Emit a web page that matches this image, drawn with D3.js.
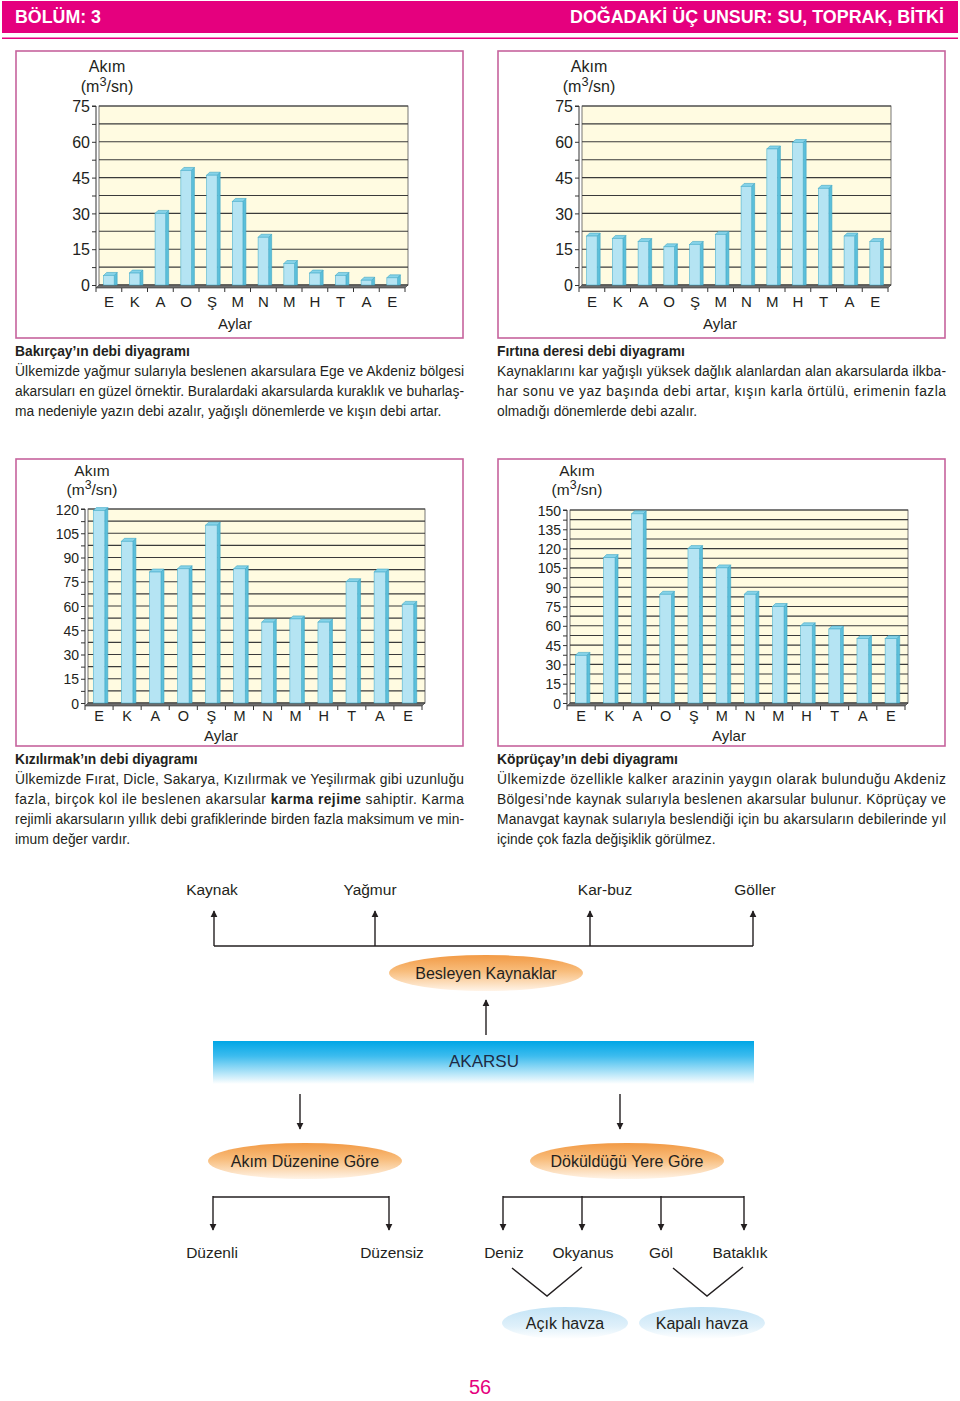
<!DOCTYPE html>
<html><head><meta charset="utf-8">
<script src="https://cdn.jsdelivr.net/npm/d3@7"></script>
<style>
html,body{margin:0;padding:0;background:#fff;}
text{font-family:"Liberation Sans",Arial,Helvetica,sans-serif;fill:#231f20;}
</style></head>
<body>
<script>
// ---------- DATA ----------
const months = ["E","K","A","O","Ş","M","N","M","H","T","A","E"];
const bakircay   = [4,5,30,48,46,35,20,9,5,4,2,3];
const firtina    = [20.5,19.5,18.2,16,17,21.2,41.3,57,59.7,40.5,20.5,18.2];
const kizilirmak = [119,100,81,83,110,83,50,52,50,75,81,61];
const kopruçay   = [37,113,147,84.5,120,105,84.5,75,60,57.5,50,50];
const ticks75  = [0,15,30,45,60,75];
const ticks120 = [0,15,30,45,60,75,90,105,120];
const ticks150 = [0,15,30,45,60,75,90,105,120,135,150];

const headerLeft = "BÖLÜM: 3";
const headerRight = "DOĞADAKİ ÜÇ UNSUR: SU, TOPRAK, BİTKİ";
const yTitle1 = "Akım";
const xTitle = "Aylar";

const captionTitles = ["Bakırçay’ın debi diyagramı","Fırtına deresi debi diyagramı","Kızılırmak’ın debi diyagramı","Köprüçay’ın debi diyagramı"];
const captionLines = [
 ["Ülkemizde yağmur sularıyla beslenen akarsulara Ege ve Akdeniz bölgesi",
  "akarsuları en güzel örnektir. Buralardaki akarsularda kuraklık ve buharlaş-",
  "ma nedeniyle yazın debi azalır, yağışlı dönemlerde ve kışın debi artar."],
 ["Kaynaklarını kar yağışlı yüksek dağlık alanlardan alan akarsularda ilkba-",
  "har sonu ve yaz başında debi artar, kışın karla örtülü, erimenin fazla",
  "olmadığı dönemlerde debi azalır."],
 ["Ülkemizde Fırat, Dicle, Sakarya, Kızılırmak ve Yeşilırmak gibi uzunluğu",
  "fazla, birçok kol ile beslenen akarsular **karma rejime** sahiptir. Karma",
  "rejimli akarsuların yıllık debi grafiklerinde birden fazla maksimum ve min-",
  "imum değer vardır."],
 ["Ülkemizde özellikle kalker arazinin yaygın olarak bulunduğu Akdeniz",
  "Bölgesi’nde kaynak sularıyla beslenen akarsular bulunur. Köprüçay ve",
  "Manavgat kaynak sularıyla beslendiği için bu akarsuların debilerinde yıl",
  "içinde çok fazla değişiklik görülmez."]
];

const feedSources = ["Kaynak","Yağmur","Kar-buz","Göller"];
const feedTitle = "Besleyen Kaynaklar";
const riverTitle = "AKARSU";
const classTitles = ["Akım Düzenine Göre","Döküldüğü Yere Göre"];
const regimes = ["Düzenli","Düzensiz"];
const outlets = ["Deniz","Okyanus","Göl","Bataklık"];
const basins = ["Açık havza","Kapalı havza"];
const pageNo = "56";

// ---------- LAYOUT ----------
const W = 960, H = 1401, MAG = "#e5007e", BOX = "#c6639d";
const svg = d3.select("body").append("svg").attr("width",W).attr("height",H);
svg.append("rect").attr("width",W).attr("height",H).attr("fill","#fff");
const defs = svg.append("defs");

function lin(id, stops){
  const g = defs.append("linearGradient").attr("id",id).attr("x1",0).attr("y1",0).attr("x2",0).attr("y2",1);
  stops.forEach(s=>g.append("stop").attr("offset",s[0]).attr("stop-color",s[1]));
}
lin("gOrange",[[0,"#f29a45"],[0.45,"#f8bd7c"],[1,"#fff4e8"]]);
lin("gBlue",[[0,"#c4e4f6"],[0.6,"#dff0fa"],[1,"#ffffff"]]);
lin("gRiver",[[0,"#00a6e6"],[0.35,"#3dbcee"],[1,"#ffffff"]]);
defs.append("marker").attr("id","arr").attr("viewBox","0 0 10 10").attr("refX",9).attr("refY",5)
  .attr("markerWidth",7).attr("markerHeight",8).attr("markerUnits","userSpaceOnUse").attr("orient","auto")
  .append("path").attr("d","M0,0 L10,5 L0,10 z").attr("fill","#231f20");

// header
svg.append("rect").attr("x",2).attr("y",1).attr("width",956).attr("height",32).attr("fill",MAG);
svg.append("rect").attr("x",2).attr("y",37.5).attr("width",956).attr("height",1.5).attr("fill",MAG);
svg.append("text").attr("x",15).attr("y",23).attr("font-size",18).attr("font-weight","bold")
  .style("fill","#fff").attr("textLength",86).attr("lengthAdjust","spacingAndGlyphs").text(headerLeft);
svg.append("text").attr("x",570).attr("y",23).attr("font-size",18).attr("font-weight","bold")
  .style("fill","#fff").attr("textLength",374).attr("lengthAdjust","spacingAndGlyphs").text(headerRight);

// ---------- CHARTS ----------
const charts = [
 {data:bakircay, ticks:ticks75, max:75, box:[16,51,447,287], x0:96, x1:405, yTop:106, y0:285, fs:16, tfs:16, mfs:15, mpad:11,
  akim:[107,71.5,92], aylar:[235,328.5], cap:0},
 {data:firtina, ticks:ticks75, max:75, box:[498,51,447,287], x0:579, x1:888, yTop:106, y0:285, fs:16, tfs:16, mfs:15, mpad:11,
  akim:[589,71.5,92], aylar:[720,328.5], cap:1},
 {data:kizilirmak, ticks:ticks120, max:120, box:[16,459,447,287], x0:85, x1:422, yTop:509, y0:703, fs:14, tfs:15.5, mfs:14.5, mpad:8,
  akim:[92,476,495], aylar:[221,741], cap:2},
 {data:kopruçay, ticks:ticks150, max:150, box:[498,459,447,287], x0:567, x1:905, yTop:510, y0:703, fs:14, tfs:15.5, mfs:14.5, mpad:8,
  akim:[577,476,495], aylar:[729,741], cap:3}
];

charts.forEach(c=>{
  const g = svg.append("g");
  g.append("rect").attr("x",c.box[0]).attr("y",c.box[1]).attr("width",c.box[2]).attr("height",c.box[3])
    .attr("fill","#fff").attr("stroke",BOX).attr("stroke-width",1.6);
  const x = d3.scaleBand().domain(d3.range(months.length)).range([c.x0,c.x1]);
  const y = d3.scaleLinear().domain([0,c.max]).range([c.y0,c.yTop]);
  const d = 3;
  const grid = d3.range(0,c.max+0.001,7.5);
  // back wall
  g.append("rect").attr("x",c.x0+d).attr("y",y(c.max)).attr("width",c.x1-c.x0).attr("height",c.y0-y(c.max))
    .attr("fill","#fffbe1").attr("stroke","#555").attr("stroke-width",0.8);
  g.selectAll(".gl").data(grid).join("line").attr("x1",c.x0+d).attr("x2",c.x1+d)
    .attr("y1",v=>y(v)).attr("y2",v=>y(v)).attr("stroke","#3a3a3a").attr("stroke-width",1.1);
  // floor
  g.append("path").attr("d",`M${c.x0},${c.y0+d} L${c.x0+d},${c.y0} L${c.x1+d},${c.y0} L${c.x1},${c.y0+d} Z`)
    .attr("fill","#6d6d6d").attr("stroke","#333").attr("stroke-width",0.6);
  // y axis
  const ya = d3.axisLeft(y).tickValues(grid).tickSize(4).tickPadding(2)
    .tickFormat(v=>c.ticks.includes(v)?String(v):"");
  const yg = g.append("g").attr("transform",`translate(${c.x0},0)`).call(ya);
  yg.select(".domain").attr("stroke","#333").attr("d",`M-4,${y(c.max)}H0V${c.y0+d}`);
  yg.selectAll(".tick line").attr("stroke","#333");
  yg.selectAll(".tick text").attr("font-size",c.fs).attr("font-family",null).style("fill","#231f20").attr("dy","0.36em");
  // x ticks at band edges
  g.selectAll(".xt").data(d3.range(months.length+1)).join("line")
    .attr("x1",i=>c.x0+i*x.step()).attr("x2",i=>c.x0+i*x.step())
    .attr("y1",c.y0+d).attr("y2",c.y0+d+4).attr("stroke","#333");
  // x labels
  const xa = d3.axisBottom(x).tickSize(0).tickPadding(c.mpad).tickFormat(i=>months[i]);
  const xg = g.append("g").attr("transform",`translate(0,${c.y0})`).call(xa);
  xg.select(".domain").remove();
  xg.selectAll(".tick text").attr("font-size",c.mfs).attr("font-family",null).style("fill","#231f20");
  // bars
  const bw = x.bandwidth()*0.41;
  const bars = g.selectAll(".bar").data(c.data).join("g");
  bars.append("path").attr("d",(v,i)=>{const xl=x(i)+x.bandwidth()/2-bw/2, xr=xl+bw, yt=y(v);
      return `M${xr},${yt} L${xr+d},${yt-d} L${xr+d},${c.y0} L${xr},${c.y0} Z`;})
    .attr("fill","#5cbfda").attr("stroke","#3fa6c4").attr("stroke-width",0.6);
  bars.append("path").attr("d",(v,i)=>{const xl=x(i)+x.bandwidth()/2-bw/2, xr=xl+bw, yt=y(v);
      return `M${xl},${yt} L${xl+d},${yt-d} L${xr+d},${yt-d} L${xr},${yt} Z`;})
    .attr("fill","#86d3e9").attr("stroke","#3fa6c4").attr("stroke-width",0.6);
  bars.append("rect").attr("x",(v,i)=>x(i)+x.bandwidth()/2-bw/2).attr("y",v=>y(v))
    .attr("width",bw).attr("height",v=>c.y0-y(v))
    .attr("fill","#b5e4f3").attr("stroke","#4fb2cf").attr("stroke-width",0.6);
  // titles
  g.append("text").attr("x",c.akim[0]).attr("y",c.akim[1]).attr("text-anchor","middle").attr("font-size",c.tfs).text(yTitle1);
  const t2 = g.append("text").attr("x",c.akim[0]).attr("y",c.akim[2]).attr("text-anchor","middle").attr("font-size",c.tfs);
  t2.append("tspan").text("(m");
  t2.append("tspan").attr("dy",-6).attr("font-size",c.tfs*0.8).text("3");
  t2.append("tspan").attr("dy",6).text("/sn)");
  g.append("text").attr("x",c.aylar[0]).attr("y",c.aylar[1]).attr("text-anchor","middle").attr("font-size",15).text(xTitle);
});

// ---------- CAPTIONS ----------
const capPos = [[15,356],[497,356],[15,764],[497,764]];
const capW = 449;
captionTitles.forEach((t,k)=>{
  const [cx,cy] = capPos[k];
  svg.append("text").attr("x",cx).attr("y",cy).attr("font-size",13.8).attr("font-weight","bold").text(t);
  const lines = captionLines[k];
  lines.forEach((ln,j)=>{
    const tx = svg.append("text").attr("x",cx).attr("y",cy+20*(j+1)).attr("font-size",13.8);
    if (j < lines.length-1) tx.attr("textLength",capW).attr("lengthAdjust","spacing");
    ln.split("**").forEach((part,p)=>{
      tx.append("tspan").attr("font-weight",p%2?"bold":null).text(part);
    });
  });
});

// ---------- DIAGRAM ----------
const D = svg.append("g");
const arrow = (x1,y1,x2,y2)=>D.append("line").attr("x1",x1).attr("y1",y1).attr("x2",x2).attr("y2",y2)
   .attr("stroke","#231f20").attr("stroke-width",1.4).attr("marker-end","url(#arr)");
const seg = (pts)=>D.append("path").attr("d",d3.line()(pts)).attr("fill","none").attr("stroke","#231f20").attr("stroke-width",1.4);
const lbl = (x,y,t,fs=15.5)=>D.append("text").attr("x",x).attr("y",y).attr("text-anchor","middle").attr("font-size",fs).text(t);

const srcX = [214,375,590,753], srcLX=[212,370,605,755];
seg([[214,946],[753,946]]);
feedSources.forEach((t,i)=>{ arrow(srcX[i],946,srcX[i],911); lbl(srcLX[i],895,t); });
D.append("ellipse").attr("cx",486).attr("cy",973).attr("rx",97).attr("ry",18).attr("fill","url(#gOrange)");
lbl(486,979,feedTitle,16);
arrow(486,1035,486,1000);
D.append("rect").attr("x",213).attr("y",1041).attr("width",541).attr("height",43).attr("fill","url(#gRiver)");
lbl(484,1067,riverTitle,17).style("fill","#1f2a44");
arrow(300,1094,300,1129); arrow(620,1094,620,1129);
const clsX=[305,627];
classTitles.forEach((t,i)=>{
  D.append("ellipse").attr("cx",clsX[i]).attr("cy",1161).attr("rx",97).attr("ry",18).attr("fill","url(#gOrange)");
  lbl(clsX[i],1167,t,16);
});
const regX=[213,389], regLX=[212,392];
seg([[213,1197],[389,1197]]);
regimes.forEach((t,i)=>{ arrow(regX[i],1196,regX[i],1230); lbl(regLX[i],1258,t); });
const outX=[503,582,661,744], outLX=[504,583,661,740];
seg([[503,1197],[744,1197]]);
outlets.forEach((t,i)=>{ arrow(outX[i],1196,outX[i],1230); lbl(outLX[i],1258,t); });
seg([[512,1268],[547,1296],[582,1267]]);
seg([[673,1268],[707,1296],[743,1267]]);
const basX=[565,702];
basins.forEach((t,i)=>{
  D.append("ellipse").attr("cx",basX[i]).attr("cy",1323).attr("rx",63).attr("ry",16).attr("fill","url(#gBlue)");
  lbl(basX[i],1329,t,16);
});
svg.append("text").attr("x",480).attr("y",1394).attr("text-anchor","middle").attr("font-size",20).style("fill",MAG).text(pageNo);
</script>
</body></html>
